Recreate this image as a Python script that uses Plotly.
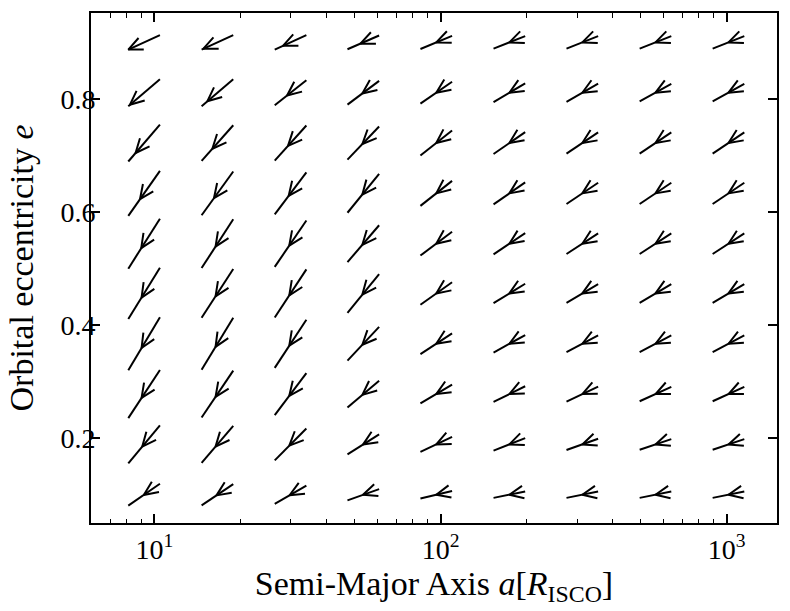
import math
import plotly.graph_objects as go

# ---------------- data ----------------
a_vals = [9.2, 16.6, 29.9, 53.7, 96.6, 174, 313, 564, 1015]
e_vals = [0.1, 0.189, 0.278, 0.367, 0.456, 0.544, 0.633, 0.722, 0.811, 0.9]

# direction field: de / dlog10(a) for each arrow (rows follow e_vals, columns follow a_vals)
slope_rows = [
    [0.35, 0.34, 0.29, 0.18, 0.12, 0.10, 0.10, 0.10, 0.10],
    [0.61, 0.59, 0.51, 0.32, 0.24, 0.20, 0.18, 0.17, 0.17],
    [0.77, 0.75, 0.67, 0.43, 0.30, 0.25, 0.24, 0.23, 0.23],
    [0.85, 0.83, 0.77, 0.54, 0.33, 0.28, 0.27, 0.27, 0.27],
    [0.82, 0.78, 0.77, 0.62, 0.36, 0.31, 0.30, 0.30, 0.30],
    [0.80, 0.78, 0.74, 0.59, 0.38, 0.34, 0.33, 0.33, 0.33],
    [0.72, 0.70, 0.67, 0.62, 0.40, 0.35, 0.34, 0.34, 0.34],
    [0.59, 0.57, 0.56, 0.53, 0.40, 0.35, 0.34, 0.34, 0.34],
    [0.43, 0.43, 0.40, 0.38, 0.35, 0.30, 0.29, 0.28, 0.28],
    [0.23, 0.23, 0.23, 0.22, 0.21, 0.20, 0.20, 0.20, 0.20],
]

# relative position of the arrow head along each shaft (0 = lower-left end)
head_pos_rows = [
    [0.49, 0.47, 0.47, 0.49, 0.50, 0.50, 0.50, 0.50, 0.50],
    [0.44, 0.44, 0.46, 0.49, 0.50, 0.50, 0.50, 0.50, 0.50],
    [0.42, 0.44, 0.46, 0.47, 0.50, 0.50, 0.50, 0.50, 0.50],
    [0.42, 0.44, 0.46, 0.47, 0.50, 0.50, 0.50, 0.50, 0.50],
    [0.42, 0.44, 0.46, 0.47, 0.50, 0.50, 0.50, 0.50, 0.50],
    [0.41, 0.44, 0.46, 0.47, 0.50, 0.50, 0.50, 0.50, 0.50],
    [0.37, 0.39, 0.44, 0.47, 0.50, 0.50, 0.50, 0.50, 0.50],
    [0.23, 0.34, 0.42, 0.47, 0.50, 0.50, 0.50, 0.50, 0.50],
    [0.05, 0.18, 0.39, 0.47, 0.50, 0.50, 0.50, 0.50, 0.50],
    [0.00, 0.05, 0.26, 0.41, 0.50, 0.50, 0.50, 0.50, 0.50],
]

x_tick_vals = [10, 100, 1000]
x_tick_text = ["10<sup>1</sup>", "10<sup>2</sup>", "10<sup>3</sup>"]
y_tick_vals = [0.2, 0.4, 0.6, 0.8]
y_tick_text = ["0.2", "0.4", "0.6", "0.8"]

# ---------------- layout / style ----------------
W, H = 790, 611
ML, MR, MT, MB = 91, 12, 11, 88
X_MIN, X_MAX = 6, 1500
Y_MIN, Y_MAX = 0.05, 0.952
HALF_DEC = 0.0553        # half horizontal extent of each arrow (decades)
BARB_LEN = 15.5          # px
BARB_ANG = math.radians(24)

plot_w = W - ML - MR
plot_h = H - MT - MB
lx0, lx1 = math.log10(X_MIN), math.log10(X_MAX)
sx = plot_w / (lx1 - lx0)
sy = plot_h / (Y_MAX - Y_MIN)

xs, ys = [], []
for j, e in enumerate(e_vals):
    for i, a in enumerate(a_vals):
        s = slope_rows[j][i]
        f = head_pos_rows[j][i]
        la = math.log10(a)
        Lx, Ly = la - HALF_DEC, e - s * HALF_DEC
        Ux, Uy = la + HALF_DEC, e + s * HALF_DEC
        Tx, Ty = Lx + f * (Ux - Lx), Ly + f * (Uy - Ly)
        dxp, dyp = (Ux - Lx) * sx, (Uy - Ly) * sy
        n = math.hypot(dxp, dyp)
        dxp, dyp = dxp / n, dyp / n
        barbs = []
        for sgn in (1, -1):
            c, sn = math.cos(sgn * BARB_ANG), math.sin(sgn * BARB_ANG)
            rx, ry = dxp * c - dyp * sn, dxp * sn + dyp * c
            barbs.append((Tx + BARB_LEN * rx / sx, Ty + BARB_LEN * ry / sy))
        # shaft
        xs += [10 ** Lx, 10 ** Ux, None]
        ys += [Ly, Uy, None]
        # head
        xs += [10 ** barbs[0][0], 10 ** Tx, 10 ** barbs[1][0], None]
        ys += [barbs[0][1], Ty, barbs[1][1], None]

fig = go.Figure()
fig.add_trace(go.Scatter(x=xs, y=ys, mode="lines",
                         line=dict(color="black", width=2),
                         hoverinfo="skip", showlegend=False))

FONT = "Liberation Serif"
minor_x = [6, 7, 8, 9] + [k * 10 for k in range(2, 10)] + [k * 100 for k in range(2, 10)]

fig.update_layout(
    width=W, height=H, autosize=False,
    margin=dict(l=ML, r=MR, t=MT, b=MB),
    paper_bgcolor="white", plot_bgcolor="white",
    font=dict(family=FONT, size=28, color="black"),
    xaxis=dict(
        type="log", range=[lx0, lx1],
        tickmode="array", tickvals=x_tick_vals, ticktext=x_tick_text,
        ticks="inside", ticklen=9, tickwidth=1.6, tickcolor="black",
        showline=True, linecolor="black", linewidth=2, mirror="ticks",
        showgrid=False, zeroline=False,
        minor=dict(tickmode="array", tickvals=minor_x, ticks="inside",
                   ticklen=4.5, tickwidth=1.3, tickcolor="black", showgrid=False),
        tickfont=dict(family=FONT, size=28),
        title=dict(text="Semi-Major Axis <i>a</i>[<i>R</i><sub>ISCO</sub>]",
                   font=dict(family=FONT, size=34), standoff=6),
    ),
    yaxis=dict(
        range=[Y_MIN, Y_MAX],
        tickmode="array", tickvals=y_tick_vals, ticktext=y_tick_text,
        ticks="inside", ticklen=9, tickwidth=1.6, tickcolor="black",
        showline=True, linecolor="black", linewidth=2, mirror="ticks",
        showgrid=False, zeroline=False,
        ticklabelstandoff=-12,
        tickfont=dict(family=FONT, size=28),
        title=dict(text="Orbital eccentricity <i>e</i>",
                   font=dict(family=FONT, size=34), standoff=17),
    ),
)

fig.write_html("out.html", config={"displayModeBar": False},
               post_script="document.body.style.margin='0px';")
